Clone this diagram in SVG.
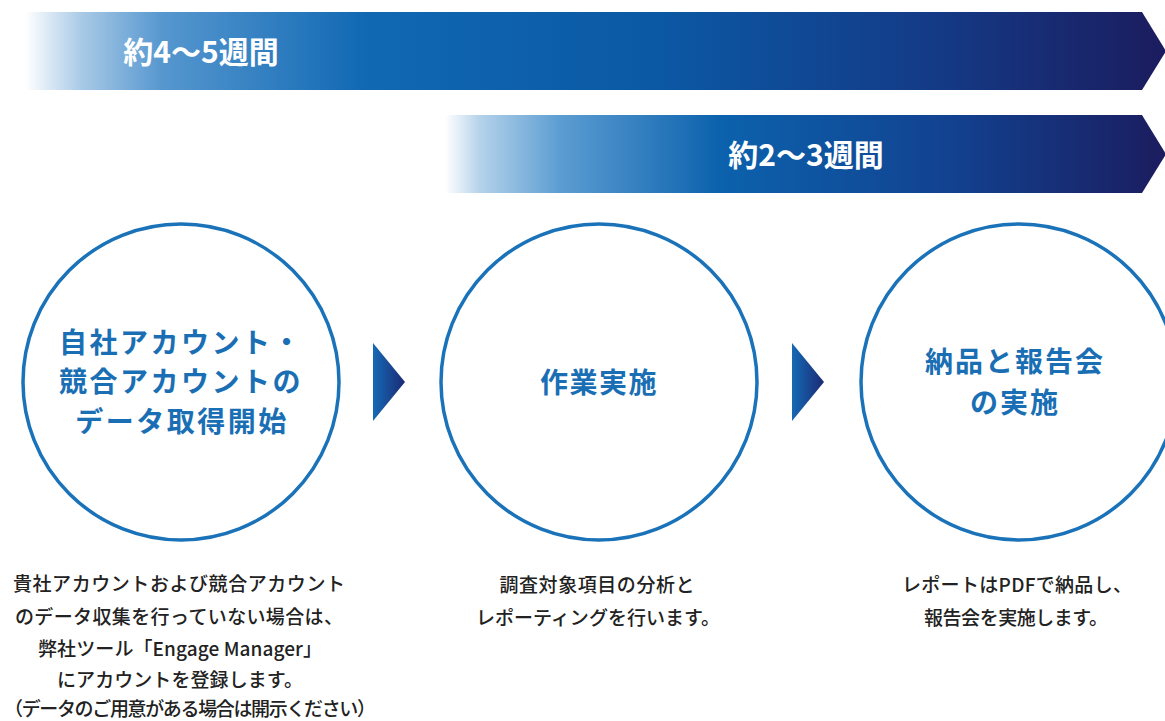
<svg xmlns="http://www.w3.org/2000/svg" width="1165" height="721" viewBox="0 0 1165 721">
  <defs>
    <linearGradient id="gBar1" x1="25" y1="0" x2="1166" y2="0" gradientUnits="userSpaceOnUse">
      <stop offset="0" stop-color="#ffffff"/>
      <stop offset="0.05" stop-color="#a8c9e6"/>
      <stop offset="0.12" stop-color="#5697cf"/>
      <stop offset="0.3" stop-color="#1068b3"/>
      <stop offset="0.55" stop-color="#0b59a5"/>
      <stop offset="0.8" stop-color="#143a86"/>
      <stop offset="1" stop-color="#1b1c5e"/>
    </linearGradient>
    <linearGradient id="gBar2" x1="445" y1="0" x2="1166" y2="0" gradientUnits="userSpaceOnUse">
      <stop offset="0" stop-color="#ffffff"/>
      <stop offset="0.05" stop-color="#b3d1ea"/>
      <stop offset="0.16" stop-color="#5b9dd2"/>
      <stop offset="0.38" stop-color="#0c62ad"/>
      <stop offset="0.7" stop-color="#124290"/>
      <stop offset="1" stop-color="#1b1c5e"/>
    </linearGradient>
    <linearGradient id="gArrow" x1="0" y1="0" x2="1" y2="0">
      <stop offset="0" stop-color="#1669b4"/>
      <stop offset="1" stop-color="#1b2a74"/>
    </linearGradient>
    <style>
      .bar-label { font-family: "Noto Sans CJK JP", "Noto Sans", sans-serif; font-weight: 700; font-size: 30px; fill: #ffffff; text-anchor: middle; }
      .ring { fill: #ffffff; stroke: #1a72b9; stroke-width: 3.5; }
      .title { font-family: "Noto Sans CJK JP", "Noto Sans", sans-serif; font-weight: 700; font-size: 28px; fill: #1a6fb4; text-anchor: middle; }
      .desc { font-family: "Noto Sans CJK JP", "Noto Sans", sans-serif; font-weight: 500; font-size: 19px; fill: #222222; text-anchor: middle; }
    </style>
  </defs>
  <rect width="1165" height="721" fill="#ffffff"/>

  <g id="period-4-5weeks">
    <polygon points="25,12 1142,12 1166,51 1142,90 25,90" fill="url(#gBar1)"/>
    <text class="bar-label" x="201" y="63">約4〜5週間</text>
  </g>

  <g id="period-2-3weeks">
    <polygon points="445,115 1142,115 1166,154 1142,193 445,193" fill="url(#gBar2)"/>
    <text class="bar-label" x="806" y="166">約2〜3週間</text>
  </g>

  <g id="step1">
    <circle class="ring" cx="181" cy="382" r="158"/>
    <text class="title" x="181" y="353" letter-spacing="2.5">自社アカウント・</text>
    <text class="title" x="181" y="392" letter-spacing="2.5">競合アカウントの</text>
    <text class="title" x="182" y="432" letter-spacing="2.5">データ取得開始</text>
    <text class="desc" x="179" y="591" textLength="332" lengthAdjust="spacing">貴社アカウントおよび競合アカウント</text>
    <text class="desc" x="179" y="624" textLength="328" lengthAdjust="spacing">のデータ収集を行っていない場合は、</text>
    <text class="desc" x="180" y="656" textLength="284" lengthAdjust="spacing">弊社ツール「Engage Manager」</text>
    <text class="desc" x="180" y="687" textLength="246" lengthAdjust="spacing">にアカウントを登録します。</text>
    <text class="desc" x="190" y="716" textLength="372" lengthAdjust="spacing">（データのご用意がある場合は開示ください）</text>
  </g>

  <g id="step2">
    <circle class="ring" cx="599" cy="382" r="158"/>
    <text class="title" x="599" y="393" letter-spacing="1.5">作業実施</text>
    <text class="desc" x="597" y="592" textLength="195" lengthAdjust="spacing">調査対象項目の分析と</text>
    <text class="desc" x="598" y="625" textLength="244" lengthAdjust="spacing">レポーティングを行います。</text>
  </g>

  <g id="step3">
    <circle class="ring" cx="1019" cy="382" r="158"/>
    <text class="title" x="1015" y="372" letter-spacing="2">納品と報告会</text>
    <text class="title" x="1015" y="413" letter-spacing="2">の実施</text>
    <text class="desc" x="1017" y="592" textLength="230" lengthAdjust="spacing">レポートはPDFで納品し、</text>
    <text class="desc" x="1016" y="625" textLength="184" lengthAdjust="spacing">報告会を実施します。</text>
  </g>

  <g id="connectors">
    <polygon points="373,343 405,382 373,421" fill="url(#gArrow)"/>
    <polygon points="792,343 824,382 792,421" fill="url(#gArrow)"/>
  </g>
</svg>
